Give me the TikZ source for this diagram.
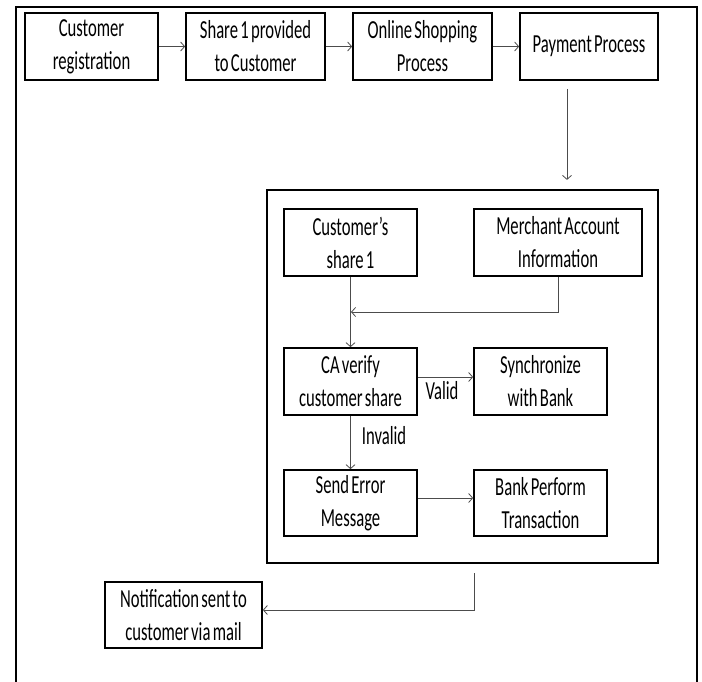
\documentclass[tikz,border=0pt]{standalone}
\usepackage{fontspec}
\newfontfamily\cf[FakeStretch=0.64,WordSpace=0.6]{Carlito}
\usetikzlibrary{arrows.meta}
\begin{document}
\begin{tikzpicture}[x=1pt,y=-1pt,
  box/.style={draw=black,line width=1.7pt,fill=white,inner sep=0pt,align=center,
    font=\cf\fontsize{26}{33}\selectfont},
  arr/.style={draw=black!70,line width=0.8pt,-{Straight Barb[length=4pt,width=9pt,line width=0.8pt]}},
  lbl/.style={font=\cf\fontsize{26}{33}\selectfont,inner sep=0pt}]
\useasboundingbox (0,0) rectangle (702,682);
% outer frame
\draw[line width=2pt] (16,682) -- (16,7) -- (697,7) -- (697,682);
% top row
\node[box,minimum width=133pt,minimum height=67pt] (reg) at (91.5,46.5) {Customer\\registration};
\node[box,minimum width=139pt,minimum height=67pt] (share) at (255.5,46.5) {Share 1 provided\\to Customer};
\node[box,minimum width=139pt,minimum height=67pt] (online) at (422.5,46.5) {Online Shopping\\Process};
\node[box,minimum width=138pt,minimum height=67pt] (pay) at (589,46.5) {Payment Process};
\draw[arr] (reg) -- (share);
\draw[arr] (share) -- (online);
\draw[arr] (online) -- (pay);
% inner frame
\node[draw=black,line width=2.2pt,minimum width=391pt,minimum height=373pt,inner sep=0pt] (inner) at (462.5,376.5) {};
\coordinate (px) at (567,0);
\draw[arr,shorten <=8pt,shorten >=9pt] (pay.south -| px) -- (inner.north -| px);
% inner nodes
\node[box,minimum width=133pt,minimum height=67pt] (cs1) at (350.5,242.5) {Customer’s\\share 1};
\node[box,minimum width=168pt,minimum height=67pt] (merch) at (558,242.5) {Merchant Account\\Information};
\node[box,minimum width=133pt,minimum height=67pt] (ca) at (350.5,381.5) {CA verify\\customer share};
\node[box,minimum width=133pt,minimum height=67pt] (sync) at (540.5,381.5) {Synchronize\\with Bank};
\node[box,minimum width=133pt,minimum height=66pt] (err) at (350.5,503) {Send Error\\Message};
\node[box,minimum width=133pt,minimum height=66pt] (bank) at (540.5,503) {Bank Perform\\Transaction};
\node[box,minimum width=157pt,minimum height=66pt] (notif) at (183.5,615) {Notification sent to\\customer via mail};
% connectors
\coordinate (j) at (351,312);
\draw[arr] (cs1) -- (ca);
\draw[arr] (merch.south) |- (j);
\draw[arr] ([yshift=4.5pt]ca.east) -- ([yshift=4.5pt]sync.west);
\node[lbl] (valid) at (442,391) {Valid};
\draw[arr] (ca) -- (err);
\node[lbl] (invalid) at (384,436) {Invalid};
\draw[arr] ([yshift=5pt]err.east) -- ([yshift=5pt]bank.west);
\coordinate (k) at (474,573);
\draw[arr] (k) |- ([yshift=5pt]notif.east);
\end{tikzpicture}
\end{document}
